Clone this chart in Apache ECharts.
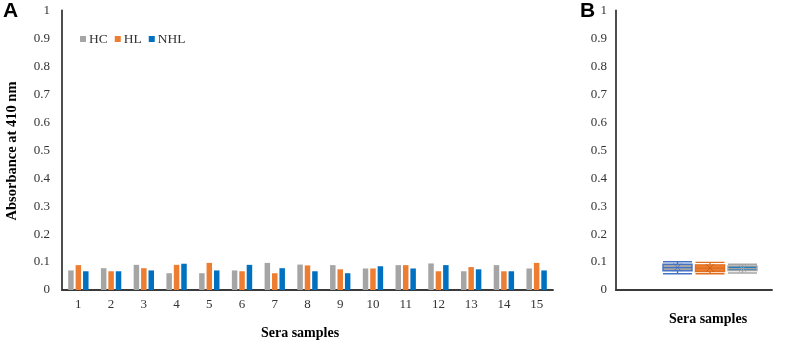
<!DOCTYPE html>
<html>
<head>
<meta charset="utf-8">
<script src="https://cdn.jsdelivr.net/npm/echarts@6/dist/echarts.min.js"></script>
<style>
html,body{margin:0;padding:0;background:#fff;}
#c{width:809px;height:342px;}
</style>
</head>
<body>
<div id="c"></div>
<script>
// ---- data ----
const categories = ['1','2','3','4','5','6','7','8','9','10','11','12','13','14','15'];
const seriesNames = ['HC','HL','NHL'];
const hc  = [0.070,0.078,0.090,0.060,0.060,0.070,0.097,0.091,0.089,0.077,0.089,0.095,0.067,0.089,0.077];
const hl  = [0.089,0.067,0.078,0.090,0.097,0.067,0.060,0.088,0.074,0.077,0.089,0.067,0.082,0.067,0.097];
const nhl = [0.067,0.067,0.070,0.094,0.070,0.090,0.078,0.067,0.060,0.085,0.077,0.089,0.074,0.067,0.070];
// box plot summaries [min, Q1, median, Q3, max] and means
const boxHC  = [0.058,0.069,0.080,0.092,0.101];
const boxHL  = [0.058,0.066,0.078,0.090,0.099];
const boxNHL = [0.061,0.070,0.077,0.086,0.092];
const means  = [0.081,0.079,0.077];
const yTicks = ['0','0.1','0.2','0.3','0.4','0.5','0.6','0.7','0.8','0.9','1'];

const colors = ['#A5A5A5','#ED7D31','#0070C0'];
const serif = '"Liberation Serif","Times New Roman",serif';
const axisColor = '#3a3a3a';

const chart = echarts.init(document.getElementById('c'), null, {renderer:'canvas'});

function yAxisDef(gridIndex, margin, show){
  return {
    type:'value', gridIndex, min:0, max:1, interval:0.1, show: show,
    axisLine:{show:true, lineStyle:{color:axisColor, width:1.8}},
    axisTick:{show:false},
    splitLine:{show:false},
    axisLabel:{show:true, margin, color:'#333', fontFamily:serif, fontSize:13,
      formatter:(v)=> yTicks[Math.round(v*10)]}
  };
}

const option = {
  animation:false,
  backgroundColor:'#fff',
  grid:[
    {left:62, top:10.5, width:491, height:279.5},
    {left:616, top:10.5, width:156, height:279.5},
    {left:661.25, top:10.5, width:97.5, height:279.5}
  ],
  legend:{
    left:75, top:27, itemWidth:6, itemHeight:6, itemGap:7,
    icon:'rect',
    textStyle:{fontFamily:serif, fontSize:13.5, color:'#333', padding:[0,0,0,-2]},
    data:seriesNames
  },
  xAxis:[
    {type:'category', gridIndex:0, data:categories,
      axisLine:{lineStyle:{color:axisColor, width:1.8}},
      axisTick:{show:false},
      axisLabel:{margin:8, color:'#333', fontFamily:serif, fontSize:13}},
    {type:'category', gridIndex:1, data:[''],
      axisLine:{lineStyle:{color:axisColor, width:1.8}},
      axisTick:{show:false}, axisLabel:{show:false}},
    {type:'category', gridIndex:2, data:seriesNames, show:false}
  ],
  yAxis:[
    yAxisDef(0, 12, true),
    yAxisDef(1, 9, true),
    {type:'value', gridIndex:2, min:0, max:1, show:false}
  ],
  graphic:[
    {type:'text', left:3, top:1, style:{text:'A', font:'bold 21px "Liberation Sans", Arial, sans-serif', fill:'#000'}},
    {type:'text', left:580, top:1, style:{text:'B', font:'bold 21px "Liberation Sans", Arial, sans-serif', fill:'#000'}},
    {type:'text', x:12, y:151, rotation:Math.PI/2, style:{text:'Absorbance at 410 nm', font:'bold 14.5px '+serif, fill:'#000', align:'center', verticalAlign:'middle'}},
    {type:'text', x:300, y:333, style:{text:'Sera samples', font:'bold 14px '+serif, fill:'#000', align:'center', verticalAlign:'middle'}},
    {type:'text', x:708, y:319, style:{text:'Sera samples', font:'bold 14px '+serif, fill:'#000', align:'center', verticalAlign:'middle'}}
  ],
  series:[
    {name:'HC', type:'bar', xAxisIndex:0, yAxisIndex:0, data:hc, barWidth:5.5, barGap:'35%', itemStyle:{color:colors[0]}},
    {name:'HL', type:'bar', xAxisIndex:0, yAxisIndex:0, data:hl, barWidth:5.5, barGap:'35%', itemStyle:{color:colors[1]}},
    {name:'NHL', type:'bar', xAxisIndex:0, yAxisIndex:0, data:nhl, barWidth:5.5, barGap:'35%', itemStyle:{color:colors[2]}},
    {type:'boxplot', xAxisIndex:2, yAxisIndex:2, boxWidth:[29,29],
      data:[
        {value:boxHC, itemStyle:{color:'#A5A5A5', borderColor:'#4472C4', borderWidth:1.4}},
        {value:boxHL, itemStyle:{color:'#ED7D31', borderColor:'#E07020', borderWidth:1.4}},
        {value:boxNHL, itemStyle:{color:'#0070C0', borderColor:'#A5A5A5', borderWidth:1.4}}
      ]},
    {type:'scatter', xAxisIndex:2, yAxisIndex:2, symbol:'path://M0,0L10,10M10,0L0,10', symbolSize:8,
      data:means.map((m,i)=>({value:[i,m], itemStyle:{color:'none', borderColor:['#4472C4','#C55A11','#A5A5A5'][i], borderWidth:1}}))}
  ]
};
chart.setOption(option);
</script>
</body>
</html>
